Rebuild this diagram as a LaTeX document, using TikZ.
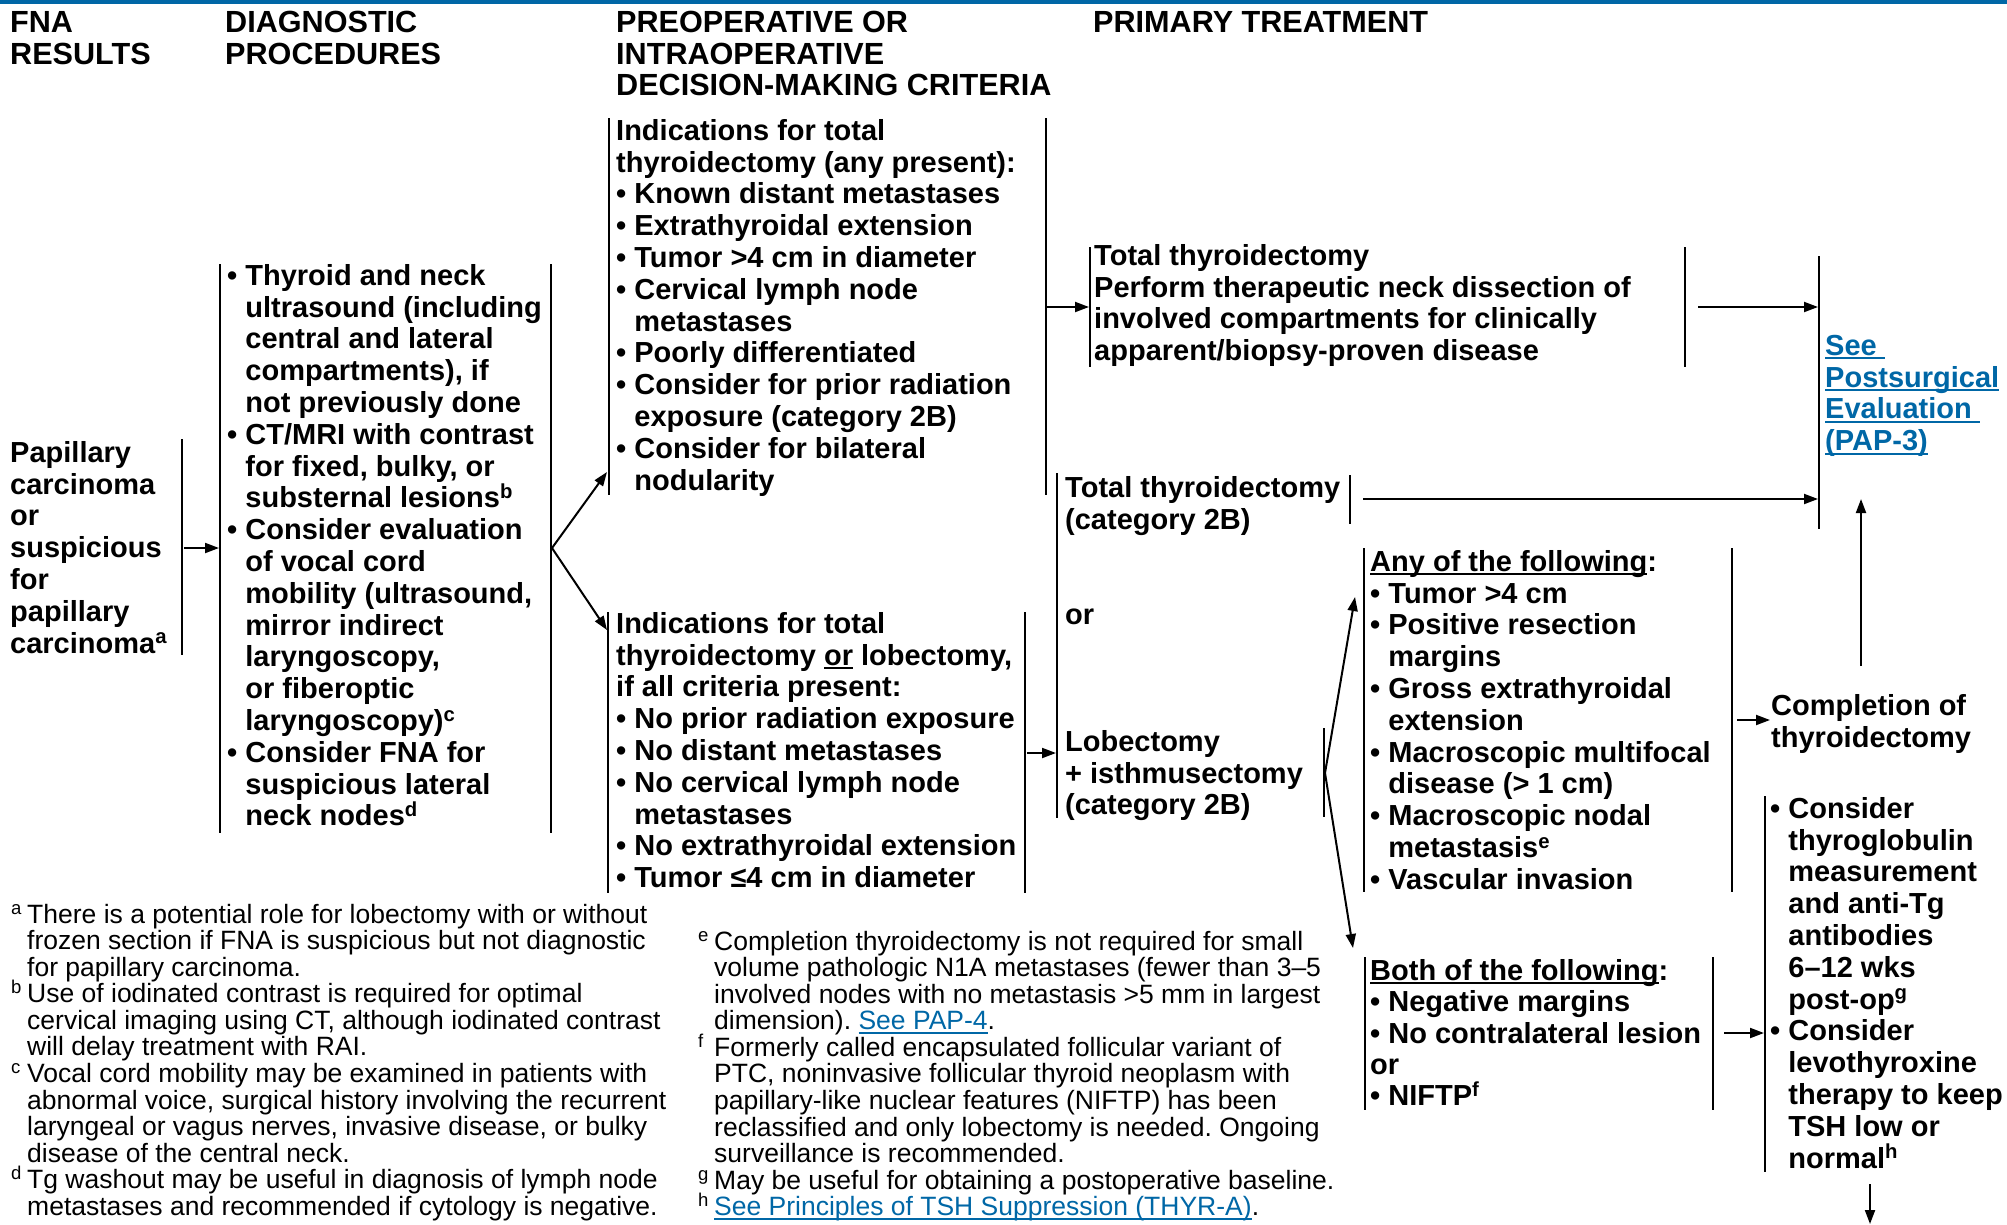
\documentclass[tikz,border=0pt]{standalone}
\usepackage{fontspec}
\setmainfont{Liberation Sans}
\usetikzlibrary{arrows.meta}
\definecolor{nccnblue}{RGB}{0,103,166}
\frenchspacing
\newcommand{\myul}[1]{\setbox0\hbox{#1}\rlap{\rule[-4pt]{\wd0}{1.8pt}}\box0\relax}
\newcommand{\bodyfont}{\fontsize{29}{31.8}\selectfont\bfseries\lineskiplimit=-100pt\relax}
\newcommand{\headfont}{\fontsize{30.6}{31.8}\selectfont\bfseries\lineskiplimit=-100pt\relax}
\newcommand{\bothfont}{\fontsize{29}{31.4}\selectfont\bfseries\lineskiplimit=-100pt\relax}
\newcommand{\notefont}{\fontsize{26.5}{26.55}\selectfont\frenchspacing\lineskiplimit=-100pt\relax}
\newcommand{\fs}{\rule{0pt}{26pt}}
\newcommand{\ind}{\hphantom{•\ }}
\newcommand{\mk}[1]{\llap{\makebox[16pt][l]{\textsuperscript{#1}}}}
\begin{document}
\begin{tikzpicture}[x=1pt,y=-1pt,
  bar/.style={line width=2pt},
  arr/.style={line width=2pt,-{Triangle[length=14pt,width=10pt]}},
  txt/.style={anchor=north west,inner sep=0pt,align=left,font=\bodyfont},
  head/.style={anchor=north west,inner sep=0pt,align=left,font=\headfont},
  note/.style={anchor=north west,inner sep=0pt,align=left,font=\notefont}]
\useasboundingbox (0,0) rectangle (2007,1224);
% top rule
\draw[nccnblue,line width=3.5pt] (0,1.75) -- (2007,1.75);

% headers
\node[head] (h1) at (10,6) {\fs FNA\\RESULTS};
\node[head] (h2) at (225,6) {\fs DIAGNOSTIC\\PROCEDURES};
\node[head] (h3) at (616,6) {\fs PREOPERATIVE OR\\INTRAOPERATIVE\\DECISION-MAKING CRITERIA};
\node[head] (h4) at (1093,6) {\fs PRIMARY TREATMENT};

% FNA result
\node[txt] (fna) at (10,436) {\fs Papillary\\carcinoma\\or\\suspicious\\for\\papillary\\carcinoma\textsuperscript{a}};
\draw[bar] (182,439) -- (182,655);

% diagnostic procedures
\node[txt] (diag) at (227,259) {\fs • Thyroid and neck\\
\ind ultrasound (including\\
\ind central and lateral\\
\ind compartments), if\\
\ind not previously done\\
• CT/MRI with contrast\\
\ind for fixed, bulky, or\\
\ind substernal lesions\textsuperscript{b}\\
• Consider evaluation\\
\ind of vocal cord\\
\ind mobility (ultrasound,\\
\ind mirror indirect\\
\ind laryngoscopy,\\
\ind or fiberoptic\\
\ind laryngoscopy)\textsuperscript{c}\\
• Consider FNA for\\
\ind suspicious lateral\\
\ind neck nodes\textsuperscript{d}};
\draw[bar] (220,264) -- (220,833);
\draw[bar] (551,264) -- (551,833);

% criteria: total thyroidectomy
\node[txt] (crit1) at (616,114) {\fs Indications for total\\
thyroidectomy (any present):\\
• Known distant metastases\\
• Extrathyroidal extension\\
• Tumor >4 cm in diameter\\
• Cervical lymph node\\
\ind metastases\\
• Poorly differentiated\\
• Consider for prior radiation\\
\ind exposure (category 2B)\\
• Consider for bilateral\\
\ind nodularity};
\draw[bar] (609,118) -- (609,495);
\draw[bar] (1046,118) -- (1046,495);

% criteria: total or lobectomy
\node[txt] (crit2) at (616,607) {\fs Indications for total\\
thyroidectomy \myul{or} lobectomy,\\
if all criteria present:\\
• No prior radiation exposure\\
• No distant metastases\\
• No cervical lymph node\\
\ind metastases\\
• No extrathyroidal extension\\
• Tumor ≤4 cm in diameter};
\draw[bar] (608,612) -- (608,893);
\draw[bar] (1025,612) -- (1025,893);

% primary treatment: total thyroidectomy + neck dissection
\node[txt] (tt1) at (1094,239) {\fs Total thyroidectomy\\
Perform therapeutic neck dissection of\\
involved compartments for clinically\\
apparent/biopsy-proven disease};
\draw[bar] (1090,247) -- (1090,367);
\draw[bar] (1685,247) -- (1685,367);

% primary treatment group
\draw[bar] (1057,473) -- (1057,818);
\node[txt] (tt2) at (1065,471) {\fs Total thyroidectomy\\(category 2B)};
\draw[bar] (1350,475) -- (1350,524);
\node[txt] (or1) at (1065,598) {\fs or};
\node[txt] (lob) at (1065,725) {\fs Lobectomy\\+ isthmusectomy\\(category 2B)};
\draw[bar] (1324,728) -- (1324,817);

% postsurgical evaluation
\draw[bar] (1819,256) -- (1819,529);
\node[txt,text=nccnblue] (pap) at (1825,329) {\fs \myul{See\ }\\\myul{Postsurgical}\\\myul{Evaluation\ }\\\myul{(PAP-3)}};

% any of the following
\node[txt] (any) at (1370,545) {\fs \myul{Any of the following}:\\
• Tumor >4 cm\\
• Positive resection\\
\ind margins\\
• Gross extrathyroidal\\
\ind extension\\
• Macroscopic multifocal\\
\ind disease (> 1 cm)\\
• Macroscopic nodal\\
\ind metastasis\textsuperscript{e}\\
• Vascular invasion};
\draw[bar] (1364,548) -- (1364,892);
\draw[bar] (1732,548) -- (1732,892);

% completion
\node[txt] (comp) at (1771,689) {\fs Completion of\\thyroidectomy};

% both of the following
\node[txt,font=\bothfont] (both) at (1370,954) {\fs \myul{Both of the following}:\\
• Negative margins\\
• No contralateral lesion\\
or\\
• NIFTP\textsuperscript{f}};
\draw[bar] (1365,957) -- (1365,1110);
\draw[bar] (1713,957) -- (1713,1110);

% consider
\draw[bar] (1765,796) -- (1765,1172);
\node[txt] (cons) at (1770,792) {\fs • Consider\\
\ind thyroglobulin\\
\ind measurement\\
\ind and anti-Tg\\
\ind antibodies\\
\ind 6–12 wks\\
\ind post-op\textsuperscript{g}\\
• Consider\\
\ind levothyroxine\\
\ind therapy to keep\\
\ind TSH low or\\
\ind normal\textsuperscript{h}};

% connector end points
\coordinate (fnaOut) at (184,548);
\coordinate (diagIn) at (219,548);
\coordinate (diagOut) at (552,548);
\coordinate (c1In) at (607,472);
\coordinate (c2In) at (607,630);
\coordinate (c1Out) at (1047,307);
\coordinate (tt1In) at (1089,307);
\coordinate (tt1Out) at (1698,307);
\coordinate (papIn1) at (1818,307);
\coordinate (tt2Out) at (1363,499);
\coordinate (papIn2) at (1818,499);
\coordinate (c2Out) at (1027,753);
\coordinate (lobIn) at (1056,753);
\coordinate (lobOut) at (1325,773);
\coordinate (anyIn) at (1355,597);
\coordinate (bothIn) at (1353,948);
\coordinate (anyOut) at (1737,720);
\coordinate (compIn) at (1770,720);
\coordinate (compOut) at (1861,666);
\coordinate (papIn3) at (1861,499);
\coordinate (bothOut) at (1724,1033);
\coordinate (consIn) at (1764,1033);
\coordinate (consOut) at (1870,1184);
\coordinate (next) at (1870,1224);

\draw[arr] (fnaOut) -- (diagIn);
\draw[arr] (diagOut) -- (c1In);
\draw[arr] (diagOut) -- (c2In);
\draw[arr] (c1Out) -- (tt1In);
\draw[arr] (tt1Out) -- (papIn1);
\draw[arr] (tt2Out) -- (papIn2);
\draw[arr] (c2Out) -- (lobIn);
\draw[arr] (lobOut) -- (anyIn);
\draw[arr] (lobOut) -- (bothIn);
\draw[arr] (anyOut) -- (compIn);
\draw[arr] (compOut) -- (papIn3);
\draw[arr] (bothOut) -- (consIn);
\draw[arr] (consOut) -- (next);

% footnotes
\node[note] (fnl) at (27,897) {\fs \mk{a}There is a potential role for lobectomy with or without\\
frozen section if FNA is suspicious but not diagnostic\\
for papillary carcinoma.\\
\mk{b}Use of iodinated contrast is required for optimal\\
cervical imaging using CT, although iodinated contrast\\
will delay treatment with RAI.\\
\mk{c}Vocal cord mobility may be examined in patients with\\
abnormal voice, surgical history involving the recurrent\\
laryngeal or vagus nerves, invasive disease, or bulky\\
disease of the central neck.\\
\mk{d}Tg washout may be useful in diagnosis of lymph node\\
metastases and recommended if cytology is negative.};
\node[note] (fnr) at (714,924) {\fs \mk{e}Completion thyroidectomy is not required for small\\
volume pathologic N1A metastases (fewer than 3–5\\
involved nodes with no metastasis >5 mm in largest\\
dimension). {\color{nccnblue}\myul{See PAP-4}}.\\
\mk{f}Formerly called encapsulated follicular variant of\\
PTC, noninvasive follicular thyroid neoplasm with\\
papillary-like nuclear features (NIFTP) has been\\
reclassified and only lobectomy is needed. Ongoing\\
surveillance is recommended.\\
\mk{g}May be useful for obtaining a postoperative baseline.\\
\mk{h}{\color{nccnblue}\myul{See Principles of TSH Suppression (THYR-A)}}.};
\end{tikzpicture}
\end{document}
